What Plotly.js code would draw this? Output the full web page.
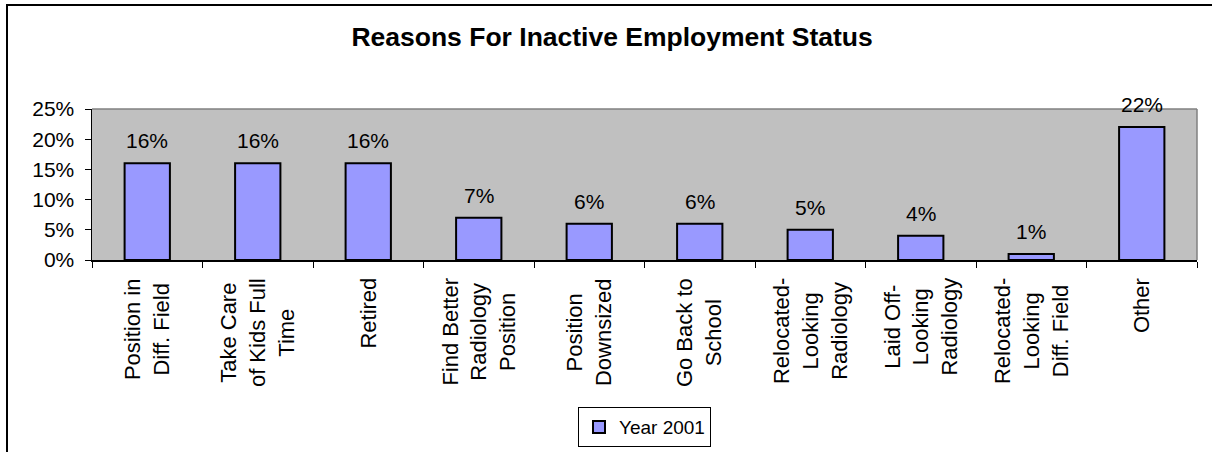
<!DOCTYPE html>
<html>
<head>
<meta charset="utf-8">
<script src="https://cdn.plot.ly/plotly-3.0.1.min.js"></script>
<style>
  html, body { margin: 0; padding: 0; background: #fff; overflow: hidden; }
  #wrap { position: relative; width: 1212px; height: 452px; overflow: hidden; }
  #chart { width: 1212px; height: 452px; }
  #frame { position: absolute; left: 6px; top: 4px; width: 1400px; height: 700px;
           border-top: 2px solid #000; border-left: 2px solid #000; pointer-events: none; }
</style>
</head>
<body>
<div id="wrap">
  <div id="chart"></div>
  <div id="frame"></div>
</div>
<script>
const categories = [
  "Position in<br>Diff. Field",
  "Take Care<br>of Kids Full<br>Time",
  "Retired",
  "Find Better<br>Radiology<br>Position",
  "Position<br>Downsized",
  "Go Back to<br>School",
  "Relocated-<br>Looking<br>Radiology",
  "Laid Off-<br>Looking<br>Radiology",
  "Relocated-<br>Looking<br>Diff. Field",
  "Other"
];
const values = [16, 16, 16, 7, 6, 6, 5, 4, 1, 22];
const seriesName = "Year 2001";
const yTicks = [0, 5, 10, 15, 20, 25];

const FONT = "Liberation Sans, Arial, sans-serif";

const trace = {
  type: "bar",
  x: categories,
  y: values,
  name: seriesName,
  marker: { color: "#9999FF", line: { color: "#000000", width: 2 } },
  width: 0.41,
  hoverinfo: "none",
  showlegend: true
};

const annotations = [];
categories.forEach((c, i) => {
  annotations.push({
    x: c, y: values[i], xref: "x", yref: "y",
    text: values[i] + "%", showarrow: false,
    yanchor: "bottom", yshift: 9,
    font: { family: FONT, size: 21, color: "#000" }
  });
  annotations.push({
    x: c, y: -0.105, xref: "x", yref: "paper",
    text: c, showarrow: false, textangle: -90,
    yanchor: "top", xanchor: "center", align: "center",
    font: { family: FONT, size: 22, color: "#000" }
  });
});

const layout = {
  width: 1212, height: 452,
  margin: { l: 92, r: 15, t: 109, b: 192, autoexpand: false },
  paper_bgcolor: "rgba(0,0,0,0)",
  plot_bgcolor: "#C0C0C0",
  font: { family: FONT, size: 21, color: "#000" },
  title: {
    text: "<b>Reasons For Inactive Employment Status</b>",
    font: { family: FONT, size: 26.5, color: "#000" },
    x: 0.505, xanchor: "center", xref: "container",
    y: 0.918, yref: "container", yanchor: "middle"
  },
  xaxis: {
    type: "category",
    showline: true, linecolor: "#000", linewidth: 1.5,
    ticks: "outside", tickson: "boundaries", ticklen: 6, tickcolor: "#000", tickwidth: 1,
    showticklabels: false, showgrid: false, zeroline: false,
    range: [-0.5, categories.length - 0.5]
  },
  yaxis: {
    range: [0, 25],
    tickvals: yTicks, ticktext: yTicks.map(v => v + "%"),
    showline: true, linecolor: "#000", linewidth: 1.5,
    ticks: "outside", ticklen: 6, tickcolor: "#000", tickwidth: 1,
    ticklabelstandoff: 6,
    showgrid: false, zeroline: false,
    tickfont: { family: FONT, size: 21, color: "#000" }
  },
  shapes: [
    { type: "line", xref: "paper", yref: "paper", x0: 0, x1: 1, y0: 1, y1: 1,
      line: { color: "#808080", width: 1.5 }, layer: "below" },
    { type: "line", xref: "paper", yref: "paper", x0: 1, x1: 1, y0: 0, y1: 1,
      line: { color: "#808080", width: 1.5 }, layer: "below" }
  ],
  annotations: annotations,
  showlegend: true,
  legend: {
    orientation: "h", x: 0.5, xanchor: "center", y: -0.975, yanchor: "top",
    bordercolor: "#000", borderwidth: 1, bgcolor: "#fff",
    itemwidth: 30, tracegroupgap: 0,
    font: { family: FONT, size: 19, color: "#000" }
  },
  bargap: 0.59
};

Plotly.newPlot("chart", [trace], layout, { displayModeBar: false, staticPlot: true });
</script>
</body>
</html>
